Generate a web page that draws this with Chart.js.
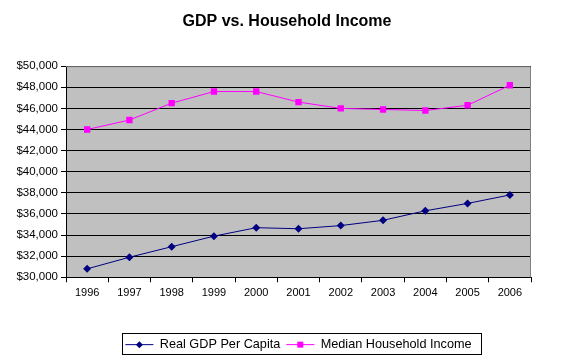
<!DOCTYPE html>
<html>
<head>
<meta charset="utf-8">
<script src="https://cdn.jsdelivr.net/npm/chart.js@4.4.1/dist/chart.umd.min.js"></script>
<style>
  body { margin: 0; background: #fff; }
  #wrap { width: 574px; height: 363px; }
</style>
</head>
<body>
<div id="wrap"><canvas id="chart" width="574" height="363"></canvas></div>
<script>
const years = ['1996', '1997', '1998', '1999', '2000', '2001', '2002', '2003', '2004', '2005', '2006'];
const realGdpPerCapita = [30800, 31900, 32900, 33900, 34700, 34600, 34900, 35400, 36300, 37000, 37800];
const medianHouseholdIncome = [44000, 44900, 46500, 47600, 47600, 46600, 46000, 45900, 45800, 46300, 48200];
const yTicks = [30000, 32000, 34000, 36000, 38000, 40000, 42000, 44000, 46000, 48000, 50000];

const plotBackground = {
    id: 'plotBackground',
    beforeDraw(chart) {
        const a = chart.chartArea;
        const ctx = chart.ctx;
        ctx.save();
        ctx.fillStyle = '#c0c0c0';
        ctx.fillRect(a.left, a.top, a.right - a.left, a.bottom - a.top);
        ctx.restore();
    },
    afterDatasetsDraw(chart) {
        const a = chart.chartArea;
        const ctx = chart.ctx;
        ctx.save();
        ctx.strokeStyle = '#808080';
        ctx.lineWidth = 1;
        ctx.beginPath();
        ctx.moveTo(a.left, a.top + 0.5);
        ctx.lineTo(a.right - 0.5, a.top + 0.5);
        ctx.lineTo(a.right - 0.5, a.bottom);
        ctx.stroke();
        ctx.restore();
    }
};

// legend box with a border and a marker on each line sample
const legendFrame = {
    id: 'legendFrame',
    afterDraw(chart) {
        const boxes = chart.legend.legendHitBoxes;
        if (!boxes || !boxes.length) return;
        const ctx = chart.ctx;
        const first = boxes[0];
        const last = boxes[boxes.length - 1];
        ctx.save();
        ctx.strokeStyle = '#000';
        ctx.lineWidth = 1;
        ctx.strokeRect(Math.round(first.left - 3) + 0.5, Math.round(first.top - 5) + 0.5,
            Math.round(last.left + last.width - first.left + 13), Math.round(first.height + 8));
        boxes.forEach((b, i) => {
            const ds = chart.data.datasets[i];
            const cx = b.left + 14;
            const cy = b.top + b.height / 2;
            ctx.fillStyle = ds.pointBackgroundColor;
            ctx.beginPath();
            if (ds.pointStyle === 'rectRot') {
                ctx.moveTo(cx, cy - 3.5);
                ctx.lineTo(cx + 3.5, cy);
                ctx.lineTo(cx, cy + 3.5);
                ctx.lineTo(cx - 3.5, cy);
                ctx.closePath();
            } else {
                ctx.rect(cx - 3, cy - 3, 6, 6);
            }
            ctx.fill();
        });
        ctx.restore();
    }
};

new Chart(document.getElementById('chart'), {
    type: 'line',
    data: {
        labels: years,
        datasets: [{
            label: 'Real GDP Per Capita',
            data: realGdpPerCapita,
            borderColor: '#000080',
            backgroundColor: '#000080',
            pointBackgroundColor: '#000080',
            pointBorderWidth: 0,
            pointStyle: 'rectRot',
            pointRadius: 4,
            borderWidth: 1,
            tension: 0
        }, {
            label: 'Median Household Income',
            data: medianHouseholdIncome,
            borderColor: '#ff00ff',
            backgroundColor: '#ff00ff',
            pointBackgroundColor: '#ff00ff',
            pointBorderWidth: 0,
            pointStyle: 'rect',
            pointRadius: 4.5,
            borderWidth: 1,
            tension: 0
        }]
    },
    options: {
        responsive: false,
        animation: false,
        layout: { padding: { left: 0, right: 0, top: 0, bottom: 2 } },
        scales: {
            x: {
                offset: true,
                grid: {
                    offset: true,
                    drawOnChartArea: false,
                    drawTicks: true,
                    tickLength: 5,
                    color: '#000'
                },
                border: { color: '#000', width: 1 },
                ticks: {
                    color: '#000',
                    font: { family: 'Liberation Sans, Arial', size: 11 },
                    padding: 4,
                    maxRotation: 0,
                    autoSkip: false
                },
                afterFit(scale) { scale.height = 55; }
            },
            y: {
                min: 30000,
                max: 50000,
                afterBuildTicks(scale) { scale.ticks = yTicks.map(v => ({ value: v })); },
                grid: {
                    color: '#000',
                    drawTicks: true,
                    tickLength: 5,
                    lineWidth: 1
                },
                border: { color: '#000', width: 1 },
                ticks: {
                    color: '#000',
                    font: { family: 'Liberation Sans, Arial', size: 11.5 },
                    padding: 3,
                    callback: v => '$' + v.toLocaleString('en-US')
                },
                afterFit(scale) { scale.width = 66; }
            },
            yR: {
                position: 'right',
                display: true,
                grid: { display: false, drawTicks: false },
                border: { display: false },
                ticks: { display: false },
                afterFit(scale) { scale.width = 43; }
            }
        },
        plugins: {
            title: {
                display: true,
                text: 'GDP vs. Household Income',
                color: '#000',
                font: { family: 'Liberation Sans, Arial', size: 16, weight: 'bold' },
                padding: { top: 12, bottom: 35 }
            },
            legend: {
                position: 'bottom',
                fullSize: false,
                labels: {
                    color: '#000',
                    font: { family: 'Liberation Sans, Arial', size: 12.7 },
                    usePointStyle: true,
                    pointStyleWidth: 28,
                    padding: 6,
                    generateLabels(chart) {
                        return chart.data.datasets.map((ds, i) => ({
                            text: ds.label,
                            datasetIndex: i,
                            pointStyle: 'line',
                            strokeStyle: ds.borderColor,
                            fillStyle: ds.borderColor,
                            lineWidth: 1,
                            fontColor: '#000'
                        }));
                    }
                }
            },
            tooltip: { enabled: false }
        }
    },
    plugins: [plotBackground, legendFrame]
});
</script>
</body>
</html>
